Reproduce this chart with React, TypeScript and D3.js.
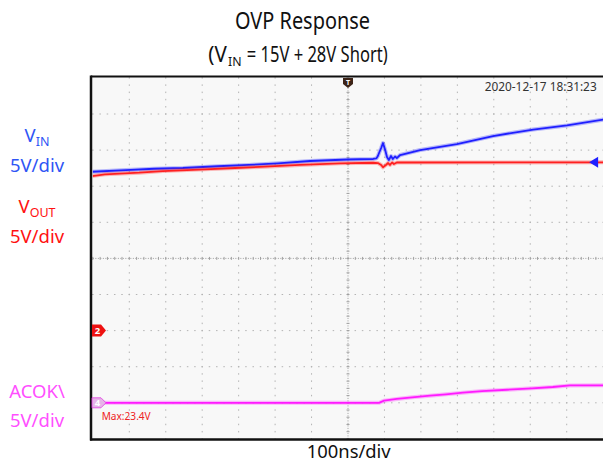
import * as d3 from 'd3'

// scope settings
const nsPerDiv = 100
const voltsPerDiv = 5
const vinOffsetDiv = -2
const voutOffsetDiv = -2
const acokOffsetDiv = -4

// traces (time in ns from trigger, volts)
const vinTime = [-702, -609, -532, -453, -357, -272, -192, -104, 0, 69, 78, 82, 86, 91, 96, 102, 107, 112, 118, 123, 129, 134, 143, 198, 299, 398, 508, 601, 702]
const vinVolts = [22.0, 22.24, 22.42, 22.52, 22.76, 22.94, 23.17, 23.49, 23.7, 23.77, 23.85, 24.18, 24.7, 25.29, 25.98, 25.0, 24.04, 23.63, 24.18, 23.77, 24.11, 23.9, 24.32, 25.01, 25.84, 26.95, 27.85, 28.41, 29.24]

const voutTime = [-702, -667, -573, -508, -392, -310, -228, -132, -22, 69, 82, 91, 96, 104, 110, 115, 121, 126, 134, 702]
const voutVolts = [21.41, 21.65, 21.87, 22.1, 22.34, 22.52, 22.7, 22.94, 23.17, 23.25, 23.21, 22.94, 22.62, 22.94, 23.21, 22.94, 23.28, 23.07, 23.28, 23.31]

const acokTime = [-702, 85, 99, 134, 176, 225, 269, 315, 368, 436, 505, 562, 609, 702]
const acokVolts = [0, 0, 0.29, 0.53, 0.76, 0.98, 1.18, 1.4, 1.63, 1.81, 2.01, 2.19, 2.4, 2.42]

const timeStamp = '2020-12-17 18:31:23'
const maxLabel = 'Max:23.4V'

const width = 603
const height = 463
const divX = 36.45
const divY = 36.1
const centerX = 348
const centerY = 258.4

const x = d3
  .scaleLinear()
  .domain([-7 * nsPerDiv, 7 * nsPerDiv])
  .range([centerX - 7 * divX, centerX + 7 * divX])
const y = d3
  .scaleLinear()
  .domain([-5, 5])
  .range([centerY + 5 * divY, centerY - 5 * divY])

const font = '"Noto Sans", "Open Sans", sans-serif'

function trace(time: number[], volts: number[], offset: number) {
  const pts = time.map((t, i) => [t, volts[i]] as [number, number])
  return (
    d3
      .line<[number, number]>()
      .x(d => x(d[0]))
      .y(d => y(offset + d[1] / voltsPerDiv))(pts) || ''
  )
}

const Trace = ({ d, color }: { d: string; color: string }) => (
  <g clipPath="url(#plotClip)" fill="none" strokeLinejoin="round">
    <path d={d} stroke={color} strokeWidth={4} strokeOpacity={0.3} />
    <path d={d} stroke={color} strokeWidth={1.8} />
  </g>
)

export default function App() {
  const [x0, x1] = x.range()
  const [y0, y1] = [y(5), y(-5)]

  const vLines = d3.range(-6, 7).filter(k => k !== 0)
  const hLines = d3.range(-4, 5).filter(k => k !== 0)
  const minorY = d3.range(-25, 26).map(k => k / 5)
  const minorX = d3.range(-35, 36).map(k => k * (nsPerDiv / 5))

  return (
    <svg
      width={width}
      height={height}
      style={{ position: 'absolute', left: 0, top: 0, background: '#fff' }}
      fontFamily={font}
    >
      <defs>
        <clipPath id="plotClip">
          <rect x={x0} y={y0} width={x1 - x0} height={y1 - y0} />
        </clipPath>
      </defs>

      {/* titles */}
      <text x={302.5} y={29} fontSize={23.5} textAnchor="middle" textLength={135} lengthAdjust="spacingAndGlyphs" fill="#111">
        OVP Response
      </text>
      <g fill="#111" fontSize={21}>
        <text x={208.3} y={62} textLength={18.5} lengthAdjust="spacingAndGlyphs">(V</text>
        <text x={228} y={66} fontSize={13} textLength={13.5} lengthAdjust="spacingAndGlyphs">IN</text>
        <text x={246.7} y={62} textLength={141} lengthAdjust="spacingAndGlyphs">= 15V + 28V Short)</text>
      </g>

      {/* screen */}
      <rect x={91} y={76.5} width={width - 91} height={439.5 - 76.5} fill="#f8f8f8" />

      {/* grid dots */}
      <g fill="#b4b4b4">
        {vLines.map(k =>
          minorY.map(m => (
            <rect key={`v${k}_${m}`} x={x(k * nsPerDiv) - 0.5} y={y(m) - 0.75} width={1} height={1.5} />
          ))
        )}
        {hLines.map(k =>
          minorX.map(m => (
            <rect key={`h${k}_${m}`} x={x(m) - 0.75} y={y(k) - 0.5} width={1.5} height={1} />
          ))
        )}
      </g>
      {/* centre cross */}
      <g stroke="#a0a0a0" strokeWidth={1}>
        <line x1={x(0)} x2={x(0)} y1={y0} y2={y1} strokeDasharray="1 1.5" />
        <line x1={x0} x2={x1} y1={y(0)} y2={y(0)} strokeDasharray="1 1.5" />
        {minorY.map(m => (
          <line key={`cy${m}`} x1={x(0) - 1.5} x2={x(0) + 1.5} y1={y(m)} y2={y(m)} />
        ))}
        {minorX.map(m => (
          <line key={`cx${m}`} x1={x(m)} x2={x(m)} y1={y(0) - 1.5} y2={y(0) + 1.5} />
        ))}
      </g>

      {/* border */}
      <g stroke="#111" fill="none">
        <line x1={91} x2={width} y1={76.5} y2={76.5} strokeWidth={2} />
        <line x1={91} x2={91} y1={75.5} y2={440.5} strokeWidth={2.5} />
        <line x1={90} x2={width} y1={439.5} y2={439.5} strokeWidth={2.5} />
      </g>

      {/* traces */}
      <Trace d={trace(acokTime, acokVolts, acokOffsetDiv)} color="#ff1aff" />
      <Trace d={trace(vinTime, vinVolts, vinOffsetDiv)} color="#1f1fff" />
      <Trace d={trace(voutTime, voutVolts, voutOffsetDiv)} color="#ff2020" />

      {/* trigger marker */}
      <g transform={`translate(${x(0)},${y0})`}>
        <path d="M-5,0 H5 V6 L0,10 L-5,6 Z" fill="#3d2418" />
        <text y={7} fontSize={7} fontWeight="bold" textAnchor="middle" fill="#fff">T</text>
      </g>
      {/* trigger level arrow */}
      <path
        d={`M${x1 - 14},${y(vinOffsetDiv + 23.3 / voltsPerDiv)} l9,-5.5 v11 Z`}
        fill="#1f1fff"
      />

      {/* channel markers */}
      <g transform={`translate(92,${y(voutOffsetDiv)})`}>
        <path d="M0,-6 H9 L14,0 L9,6 H0 Z" fill="#ee1111" />
        <text x={5.5} y={3.5} fontSize={9.5} fontWeight="bold" textAnchor="middle" fill="#fff">2</text>
      </g>
      <g transform={`translate(92,${y(acokOffsetDiv)})`}>
        <path d="M0,-5 H9 L14,0 L9,5 H0 Z" fill="#e6b5e8" stroke="#e040e0" strokeWidth={0.8} />
        <text x={5.5} y={3.5} fontSize={9.5} fontWeight="bold" textAnchor="middle" fill="#fff">4</text>
      </g>

      <text x={596.7} y={91} fontSize={12} textAnchor="end" textLength={112} lengthAdjust="spacingAndGlyphs" fill="#333">
        {timeStamp}
      </text>
      <text x={101.7} y={420} fontSize={10} textLength={49} lengthAdjust="spacingAndGlyphs" fill="#ee2222">
        {maxLabel}
      </text>

      {/* channel labels */}
      <g fontSize={18.5} textAnchor="middle">
        <text x={37} y={141.7} fill="#2f55f5">
          V<tspan fontSize={12.5} dy={4}>IN</tspan>
        </text>
        <text x={37} y={172} fill="#2f55f5">5V/div</text>
        <text x={37} y={213} fill="#ff1111">
          V<tspan fontSize={12.5} dy={4}>OUT</tspan>
        </text>
        <text x={37} y={243} fill="#ff1111">5V/div</text>
        <text x={37} y={398} fill="#ff4fff">ACOK\</text>
        <text x={37} y={426.5} fill="#ff4fff">5V/div</text>
      </g>

      <text x={348.7} y={457.5} fontSize={18} textAnchor="middle" textLength={84} lengthAdjust="spacingAndGlyphs" fill="#111">
        100ns/div
      </text>
    </svg>
  )
}
